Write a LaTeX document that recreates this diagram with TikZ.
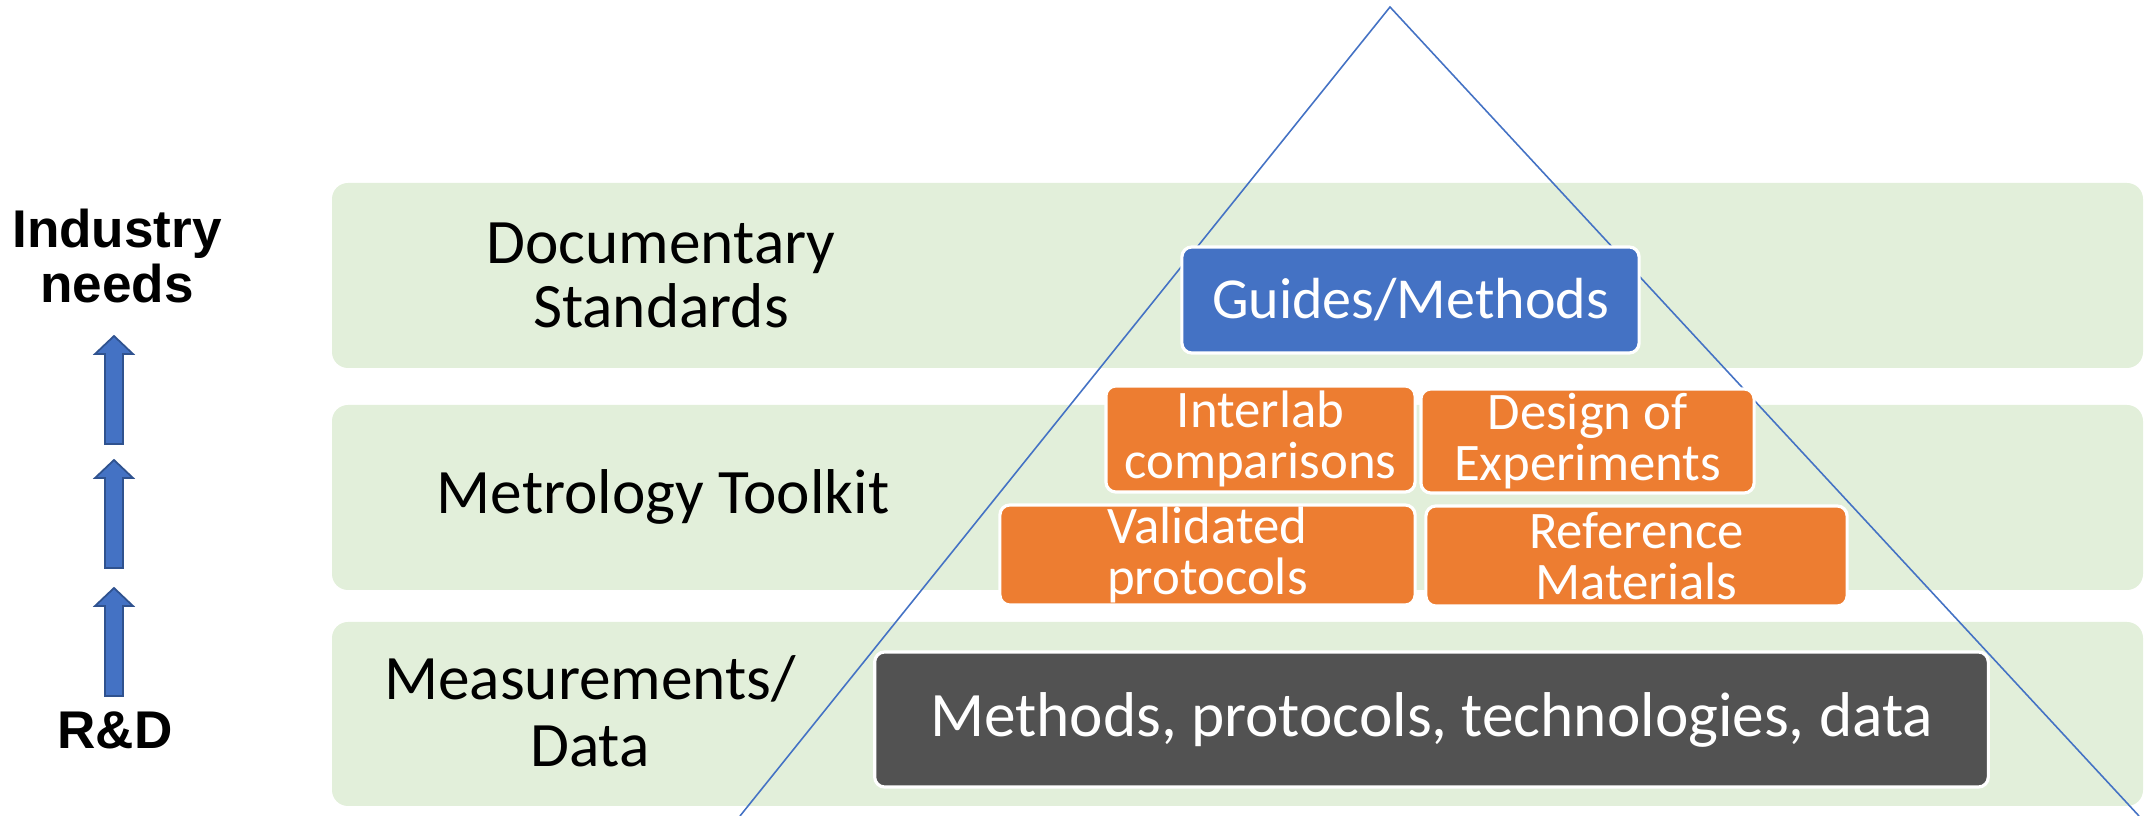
\documentclass[tikz,border=0pt]{standalone}
\usepackage{fontspec}
\setmainfont{Carlito}
\newfontfamily\arialfont{Liberation Sans}
\usetikzlibrary{fit}
\definecolor{bandgreen}{HTML}{E2EFDA}
\definecolor{officeblue}{HTML}{4472C4}
\definecolor{officeorange}{HTML}{ED7D31}
\definecolor{darkgrey}{HTML}{525252}
\definecolor{arrowedge}{HTML}{2F528F}
\tikzset{
    band/.style={rectangle, fill=bandgreen, rounded corners=0.16cm, inner sep=0pt},
    bandlabel/.style={align=center, font=\fontsize{18}{18.2}\selectfont},
    guide/.style={rectangle, draw=white, line width=0.9pt, fill=officeblue, rounded corners=0.1cm, text=white, font=\fontsize{16.5}{17}\selectfont, minimum width=4.57cm, minimum height=1.06cm},
    tool/.style={rectangle, draw=white, line width=0.9pt, fill=officeorange, rounded corners=0.1cm, text=white, align=center, font=\fontsize{15}{14.3}\selectfont, inner sep=0pt},
    datablock/.style={rectangle, draw=white, line width=0.9pt, fill=darkgrey, rounded corners=0.1cm, text=white, font=\fontsize{18}{18}\selectfont, minimum width=11.13cm, minimum height=1.35cm},
    side/.style={align=center, font=\arialfont\bfseries\fontsize{15.1}{15.9}\selectfont},
    uparrow/.style={draw=arrowedge, fill=officeblue, line width=0.5pt},
    pyramid/.style={draw=officeblue, line width=0.45pt},
}
\begin{document}
\begin{tikzpicture}[x=0.01cm, y=-0.01cm]
        \useasboundingbox (0,0) rectangle (2151,816);

        % Bands
        \node [band, fit={(332,183) (2143,368)}] (standards) {};
        \node [band, fit={(332,405) (2143,590)}] (toolkit) {};
        \node [band, fit={(332,622) (2143,806)}] (measure) {};

        \node [bandlabel] (doclabel) at (661,275) {Documentary\\Standards};
        \node [bandlabel] (toollabel) at (663,497) {Metrology Toolkit};
        \node [bandlabel, font=\fontsize{18}{19}\selectfont] (measlabel) at (590,711) {Measurements/\\Data};

        % Pyramid outline
        \coordinate (apex) at (1390,7);
        \coordinate (baseleft) at (740,816);
        \coordinate (baseright) at (2139,816);
        \draw [pyramid] (baseleft) -- (apex) -- (baseright);

        % Boxes
        \node [guide] (guides) at (1410.5,300) {Guides/Methods};
        \node [tool, minimum width=3.09cm, minimum height=1.06cm] (interlab) at (1260.5,439) {Interlab\\comparisons};
        \node [tool, minimum width=3.33cm, minimum height=1.04cm] (doe) at (1587.5,441) {Design of\\Experiments};
        \node [tool, minimum width=4.15cm, minimum height=1.00cm] (validated) at (1207.5,555) {Validated\\protocols};
        \node [tool, minimum width=4.21cm, minimum height=1.00cm] (refmat) at (1636.5,556) {Reference\\Materials};
        \node [datablock] (methods) at (1431.5,719.5) {Methods, protocols, technologies, data};

        % Left side
        \node [side] (needs) at (117,256) {Industry\\needs};
        \node [side] (rnd) at (115,730) {R\&D};
        \foreach \ty in {336,460,588}
            \draw [uparrow] (114,\ty) -- (133,\ty+18) -- (123,\ty+18) -- (123,\ty+108)
                -- (105,\ty+108) -- (105,\ty+18) -- (95,\ty+18) -- cycle;
\end{tikzpicture}
\end{document}
